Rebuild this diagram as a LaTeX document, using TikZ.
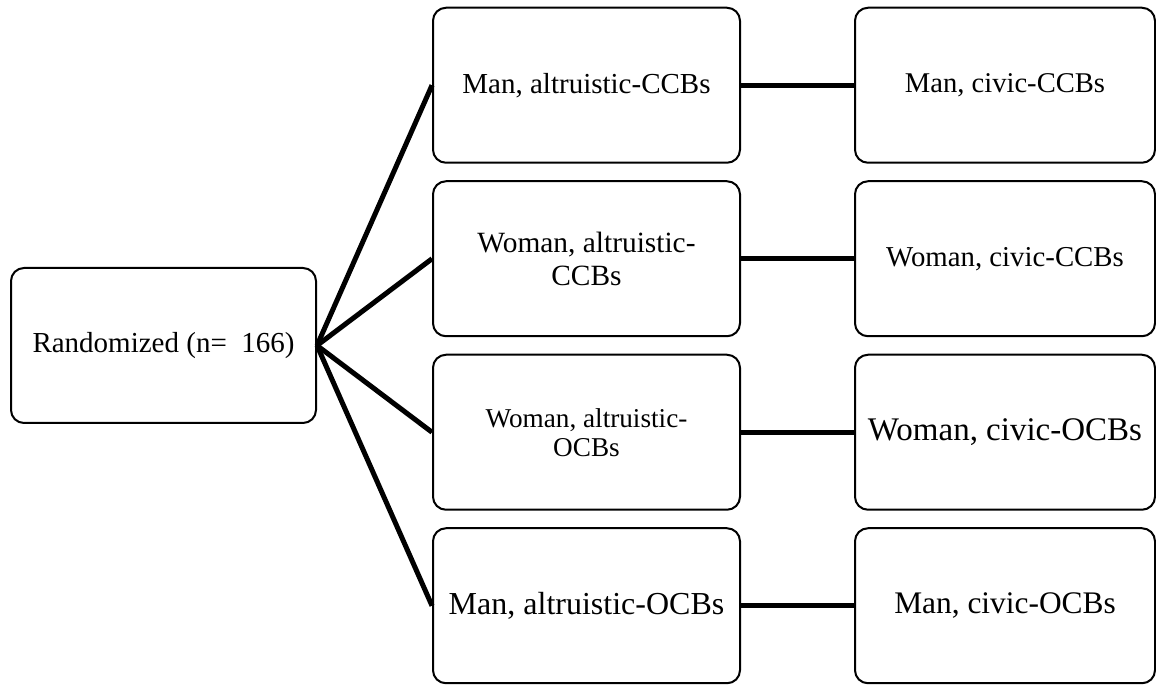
\documentclass[tikz,border=0pt]{standalone}
\usepackage{fontspec}
\setmainfont{Liberation Serif}
\usepackage{tikz}

\tikzset{
  cell/.style={draw, line width=1pt, rounded corners=6.5pt, inner sep=0pt,
    minimum width=153.5pt, minimum height=77.5pt, align=center,
    font=\fontsize{14.5}{16.5}\selectfont},
  fs/.style 2 args={font=\fontsize{#1}{#2}\selectfont}
}

\begin{document}
\begin{tikzpicture}[x=0.5pt, y=0.5pt, grow'=right,
  parent anchor=east, child anchor=west,
  edge from parent/.style={draw, line width=2.5pt},
  level 1/.style={level distance=211.5pt, sibling distance=86.75pt},
  level 2/.style={level distance=209.25pt}]
\useasboundingbox (0,0) rectangle (1156,685);
\node [cell, minimum width=152.5pt] (rand) at (163.5,339.5) {Randomized (n=~~166)}
	child{node [cell] (mac) {Man, altruistic-CCBs}
		child{node [cell, minimum width=150pt, fs={14.3}{16}] (mcc) {Man, civic-CCBs}}}
	child{node [cell, fs={14.7}{16.5}] (wac) {Woman, altruistic-\\CCBs}
		child{node [cell, minimum width=150pt, fs={14.4}{16}] (wcc) {Woman, civic-CCBs}}}
	child{node [cell, fs={13.6}{14.5}] (wao) {Woman, altruistic-\\OCBs}
		child{node [cell, minimum width=150pt, fs={16.5}{18}] (wco) {Woman, civic-OCBs}}}
	child{node [cell, fs={16}{18}] (mao) {Man, altruistic-OCBs}
		child{node [cell, minimum width=150pt, fs={15.7}{18}] (mco) {Man, civic-OCBs}}};
\end{tikzpicture}
\end{document}
